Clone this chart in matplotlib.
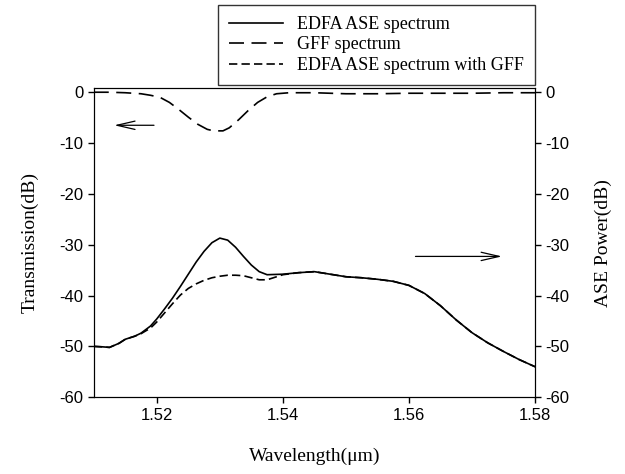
import numpy as np
import matplotlib
matplotlib.use("Agg")
import matplotlib.pyplot as plt

plt.rcParams["axes.unicode_minus"] = False

# wavelength grid (um)
wl = [1.510, 1.5115, 1.5125, 1.514, 1.515, 1.5165, 1.5175, 1.519, 1.520,
      1.52125, 1.5225, 1.52375, 1.525, 1.52625, 1.5275, 1.52875, 1.530,
      1.53125, 1.5325, 1.53375, 1.535, 1.53625, 1.5375, 1.540, 1.5425,
      1.545, 1.5475, 1.550, 1.5525, 1.555, 1.5575, 1.560, 1.5625, 1.565,
      1.5675, 1.570, 1.5725, 1.575, 1.5775, 1.580]

# EDFA ASE spectrum (dB)
ase = [-50.0, -50.1, -50.2, -49.4, -48.6, -48.0, -47.4, -46.0, -44.6,
       -42.6, -40.5, -38.2, -35.8, -33.4, -31.3, -29.6, -28.7,
       -29.1, -30.5, -32.3, -34.0, -35.3, -35.9, -35.8, -35.5,
       -35.3, -35.8, -36.3, -36.5, -36.8, -37.2, -38.0, -39.6, -42.0,
       -44.8, -47.3, -49.3, -51.0, -52.6, -54.0]

# EDFA ASE spectrum with GFF (dB)
ase_gff = [-50.0, -50.1, -50.2, -49.4, -48.6, -48.0, -47.5, -46.4, -45.2,
           -43.4, -41.6, -39.9, -38.6, -37.7, -37.0, -36.5, -36.2,
           -36.0, -36.0, -36.1, -36.5, -36.9, -36.9, -35.9, -35.5,
           -35.3, -35.8, -36.3, -36.5, -36.8, -37.2, -38.0, -39.6, -42.0,
           -44.8, -47.3, -49.3, -51.0, -52.6, -54.0]

# GFF transmission (dB)
gff_wl = [1.510, 1.5125, 1.515, 1.5175, 1.519, 1.5205, 1.522, 1.5235, 1.525,
          1.5265, 1.528, 1.529, 1.5305, 1.5315, 1.533, 1.5345, 1.536, 1.5375,
          1.539, 1.541, 1.545, 1.550, 1.555, 1.560, 1.565, 1.570, 1.575, 1.580]
gff = [0.0, 0.0, -0.1, -0.3, -0.6, -1.0, -2.0, -3.4, -4.9,
       -6.3, -7.3, -7.6, -7.6, -7.0, -5.4, -3.6, -2.0, -0.9,
       -0.3, -0.1, -0.1, -0.3, -0.3, -0.2, -0.2, -0.2, -0.1, -0.1]

serif = "Liberation Serif"
sans = "Liberation Sans"

fig = plt.figure(figsize=(6.25, 4.74), dpi=100)
ax = fig.add_axes([0.150, 0.162, 0.706, 0.652])
ax2 = ax.twinx()

l1, = ax.plot(wl, ase, color="black", lw=1.2, label="EDFA ASE spectrum")
l2, = ax.plot(gff_wl, gff, color="black", lw=1.2, dashes=(9, 4.5),
              label="GFF spectrum")
l3, = ax.plot(wl, ase_gff, color="black", lw=1.2, dashes=(5, 2.5),
              label="EDFA ASE spectrum with GFF")

for a in (ax, ax2):
    a.set_xlim(1.51, 1.58)
    a.set_ylim(-60, 0.8)
    a.set_yticks(np.arange(-60, 1, 10))
    a.tick_params(direction="out", length=4, width=1, labelsize=12)
    for lab in a.get_xticklabels() + a.get_yticklabels():
        lab.set_fontfamily(sans)
ax.set_xticks([1.52, 1.54, 1.56, 1.58])
ax.set_xticklabels(["1.52", "1.54", "1.56", "1.58"], fontfamily=sans)

ax.set_xlabel("Wavelength(\u03bcm)", fontfamily=serif, fontsize=14, labelpad=18)
ax.set_ylabel("Transmission(dB)", fontfamily=serif, fontsize=14, labelpad=15)
ax2.set_ylabel("ASE Power(dB)", fontfamily=serif, fontsize=14, labelpad=18)

# direction arrows
ax.annotate("", xy=(1.5128, -6.5), xytext=(1.5200, -6.5),
            arrowprops=dict(arrowstyle="->,head_length=1.3,head_width=0.3",
                            color="black", lw=0.9))
ax.annotate("", xy=(1.5752, -32.3), xytext=(1.5606, -32.3),
            arrowprops=dict(arrowstyle="->,head_length=1.3,head_width=0.3",
                            color="black", lw=0.9))

leg = fig.legend(handles=[l1, l2, l3], loc="upper right",
                 bbox_to_anchor=(535 / 625, 1 - 5 / 474),
                 prop={"family": serif, "size": 13}, frameon=True,
                 fancybox=False, edgecolor="black", handlelength=3.0,
                 labelspacing=0.2, borderpad=0.6, handletextpad=0.8,
                 borderaxespad=0)
leg.get_frame().set_linewidth(1.0)

fig.savefig("out.png", dpi=100)
